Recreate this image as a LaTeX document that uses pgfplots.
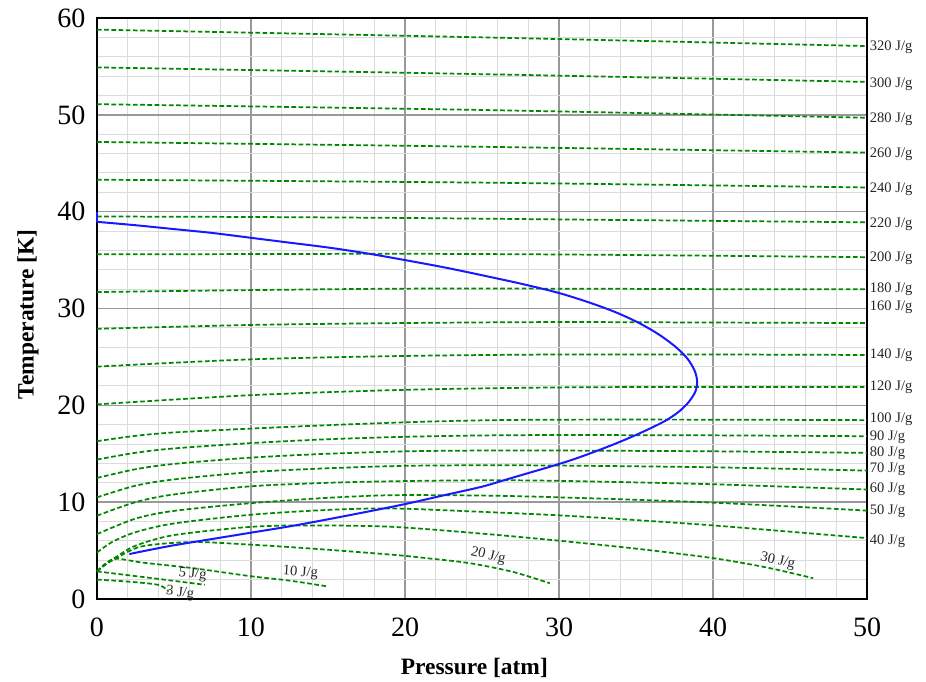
\documentclass[border=0pt]{standalone}
\usepackage{pgfplots}
\pgfplotsset{compat=1.18}
\usepackage{fontspec}
\setmainfont{Liberation Serif}
\definecolor{isoG}{RGB}{0,135,0}
\definecolor{invB}{RGB}{25,25,255}
\tikzset{
  iso/.style={isoG, line width=1.3pt, dash pattern=on 3.5pt off 1.9pt, smooth, tension=0.5},
  lab/.style={anchor=west, font=\fontsize{10.9}{12}\selectfont, text=black!85, inner sep=2pt},
  slab/.style={font=\fontsize{10.9}{12}\selectfont, text=black!85, inner sep=0pt},
}
\begin{document}
\begin{tikzpicture}
\path[use as bounding box] (-72.75pt,-62.25pt) rectangle ++(694.5pt,511.5pt);
\begin{axis}[
  scale only axis, width=577.5pt, height=435.75pt,
  xmin=0, xmax=50, ymin=0, ymax=60,
  xtick={0,10,...,50}, ytick={0,10,...,60},
  minor xtick={2,4,...,48}, minor ytick={2,4,...,58},
  grid=both,
  major grid style={draw=black!40, line width=1.1pt},
  minor grid style={draw=black!14, line width=0.75pt},
  axis line style={black, line width=1.1pt},
  major tick length=0pt, minor tick length=0pt,
  tick style={draw=none},
  /pgf/number format/assume math mode=true,
  tick label style={font=\fontsize{21}{24}\selectfont, inner sep=0pt},
  xticklabel style={yshift=-14.25pt},
  yticklabel style={xshift=-8.5pt},
  xlabel={Pressure [atm]}, ylabel={Temperature [K]},
  label style={font=\bfseries\fontsize{17.6}{20}\selectfont},
  xlabel style={at={(axis description cs:0.49,-0.1188)}, anchor=center},
  ylabel style={at={(axis description cs:-0.0896,0.49)}, anchor=center},
  clip=false,
]
% isenthalps
\addplot[iso] coordinates {(0,58.8) (25,58.0) (50,57.1)};
\addplot[iso] coordinates {(0,54.9) (25,54.2) (50,53.4)};
\addplot[iso] coordinates {(0,51.1) (25,50.5) (50,49.7)};
\addplot[iso] coordinates {(0,47.2) (25,46.7) (50,46.1)};
\addplot[iso] coordinates {(0,43.3) (25,43.0) (50,42.5)};
\addplot[iso] coordinates {(0,39.5) (10,39.45) (20,39.35) (30,39.2) (40,39.05) (50,38.9)};
\addplot[iso] coordinates {(0,35.6) (10,35.62) (20,35.65) (30,35.58) (40,35.45) (50,35.3)};
\addplot[iso] coordinates {(0,31.7) (10,31.9) (20,32.05) (30,32.05) (40,32.0) (50,32.0)};
\addplot[iso] coordinates {(0,27.9) (10,28.3) (20,28.5) (30,28.6) (40,28.55) (50,28.5)};
\addplot[iso] coordinates {(0,24.0) (10,24.75) (20,25.1) (30,25.25) (40,25.25) (50,25.2)};
\addplot[iso] coordinates {(0,20.1) (10,21.05) (20,21.6) (30,21.85) (40,21.9) (50,21.9)};
\addplot[iso] coordinates {(0,16.3) (2.5,16.85) (5,17.2) (10,17.6) (15,17.95) (20,18.25) (25,18.45) (30,18.52) (40,18.52) (50,18.47)};
\addplot[iso] coordinates {(0,14.4) (2.5,15.1) (5,15.55) (10,16.1) (15,16.5) (20,16.75) (25,16.89) (30,16.93) (40,16.9) (50,16.81)};
\addplot[iso] coordinates {(0,12.5) (2.5,13.4) (5,13.95) (10,14.6) (15,15.0) (20,15.25) (25,15.33) (30,15.33) (40,15.25) (50,15.09)};
\addplot[iso] coordinates {(0,10.5) (2.5,11.7) (5,12.35) (10,13.1) (15,13.5) (20,13.75) (25,13.81) (30,13.78) (40,13.6) (50,13.26)};
\addplot[iso] coordinates {(0,8.6) (2.5,10.0) (5,10.8) (10,11.64) (15,12.0) (19.2,12.16) (25,12.26) (30,12.2) (40,11.85) (50,11.3)};
\addplot[iso] coordinates {(0,6.7) (2.5,8.3) (5,9.1) (10,9.9) (15,10.45) (19.2,10.72) (25,10.68) (30,10.5) (40,9.95) (50,9.13)};
\addplot[iso] coordinates {(0,4.8) (1,5.9) (2.5,6.9) (5,7.8) (10,8.7) (15,9.2) (19.2,9.35) (25,9.0) (30,8.64) (35,8.15) (40,7.6) (45,6.95) (50,6.29)};
\addplot[iso] coordinates {(0,2.85) (0.5,3.6) (1.2,4.3) (2.5,5.5) (5,6.6) (10,7.45) (14,7.6) (19.2,7.45) (25,6.75) (30,6.02) (35,5.2) (40,4.22) (43.5,3.25) (46.5,2.15)};
\addplot[iso] coordinates {(0,2.85) (0.5,3.5) (1.2,4.16) (2.9,5.43) (6.2,5.88) (10.1,5.6) (14,5.2) (19.2,4.57) (21.5,4.2) (24.2,3.7) (27,2.8) (29.4,1.63)};
\addplot[iso] coordinates {(0,2.85) (0.5,3.5) (1.2,4.16) (3,3.75) (6.2,3.19) (10.1,2.33) (12.5,1.9) (15,1.29)};
\addplot[iso] coordinates {(0,2.85) (3.6,2.15) (7.0,1.47)};
\addplot[iso] coordinates {(0,2.0) (2,1.8) (4.0,1.45) (4.65,0.78)};
% inversion curve
\addplot[invB, line width=1.5pt] coordinates {(0,40) (0,38.95)};
\addplot[invB, line width=1.5pt, smooth, tension=0.5] coordinates {
 (0,38.95) (2.5,38.6) (5,38.2) (7.5,37.8) (10,37.3) (12.5,36.8) (15,36.3) (17.5,35.7)
 (20,35.0) (22.7,34.2) (25.4,33.3) (27.7,32.5) (30,31.6) (32,30.6) (33.7,29.6)
 (35.2,28.5) (36.5,27.3) (37.6,26.0) (38.35,24.8) (38.8,23.6) (38.97,22.5)
 (38.85,21.4) (38.4,20.3) (37.75,19.3) (36.9,18.4) (35.9,17.6) (34.8,16.8)
 (33.6,16.0) (32.3,15.2) (30.9,14.4) (29.5,13.7) (28.0,13.0) (26.5,12.3)
 (25.0,11.6) (22.5,10.7) (20.0,9.8) (17.5,9.0) (14.9,8.2) (12.5,7.5) (10,6.85)
 (7.5,6.2) (5,5.55) (3.2,5.0) (2.1,4.64)};
% labels
\node[lab] at (axis cs:50,56.93) {320 J/g};
\node[lab] at (axis cs:50,53.16) {300 J/g};
\node[lab] at (axis cs:50,49.54) {280 J/g};
\node[lab] at (axis cs:50,45.93) {260 J/g};
\node[lab] at (axis cs:50,42.31) {240 J/g};
\node[lab] at (axis cs:50,38.7) {220 J/g};
\node[lab] at (axis cs:50,35.18) {200 J/g};
\node[lab] at (axis cs:50,32.0) {180 J/g};
\node[lab] at (axis cs:50,30.13) {160 J/g};
\node[lab] at (axis cs:50,25.2) {140 J/g};
\node[lab] at (axis cs:50,21.9) {120 J/g};
\node[lab] at (axis cs:50,18.6) {100 J/g};
\node[lab] at (axis cs:50,16.75) {90 J/g};
\node[lab] at (axis cs:50,15.1) {80 J/g};
\node[lab] at (axis cs:50,13.4) {70 J/g};
\node[lab] at (axis cs:50,11.35) {60 J/g};
\node[lab] at (axis cs:50,9.1) {50 J/g};
\node[lab] at (axis cs:50,6.0) {40 J/g};
\node[slab, rotate=-6] at (axis cs:5.4,0.6) {3 J/g};
\node[slab, rotate=-6] at (axis cs:6.2,2.55) {5 J/g};
\node[slab, rotate=-4] at (axis cs:13.2,2.7) {10 J/g};
\node[slab, rotate=-13] at (axis cs:25.4,4.45) {20 J/g};
\node[slab, rotate=-13] at (axis cs:44.2,3.9) {30 J/g};
\end{axis}
\end{tikzpicture}
\end{document}
